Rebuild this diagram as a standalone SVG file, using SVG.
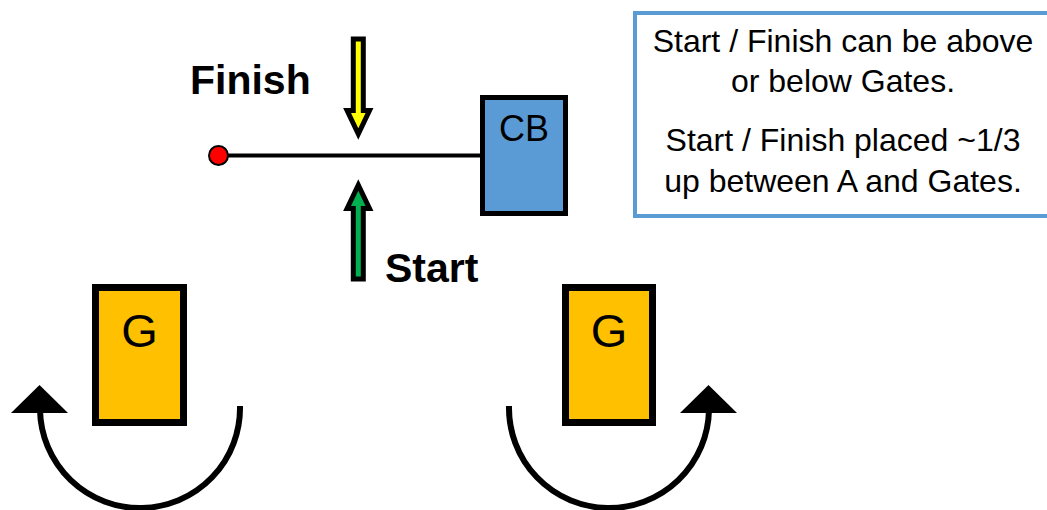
<svg xmlns="http://www.w3.org/2000/svg" width="1047" height="510" viewBox="0 0 1047 510">
  <style>
    .lbl { font-family: "Liberation Sans", Arial, sans-serif; fill: #000; }
    .bold { font-weight: bold; font-size: 41px; }
    .note { font-size: 32px; text-anchor: middle; }
    .gate { fill: #FFC000; stroke: #000; stroke-width: 7; }
    .gtext { font-size: 47px; text-anchor: middle; }
    .blk { stroke: #000; stroke-width: 5; stroke-linejoin: miter; }
    .rot { fill: none; stroke: #000; stroke-width: 6; }
  </style>
  <rect width="1047" height="510" fill="#fff"/>

  <g id="connectors">
    <line x1="218" y1="155.5" x2="481" y2="155.5" stroke="#000" stroke-width="4"/>
  </g>

  <g id="start-point">
    <circle cx="218.5" cy="155.5" r="9.5" fill="#FF0000" stroke="#000" stroke-width="2"/>
  </g>

  <g id="finish-arrow">
    <polygon class="blk" fill="#FFFF00" points="353.3,39 363.3,39 363.3,110.5 369.5,110.5 358.3,134 347.1,110.5 353.3,110.5"/>
  </g>
  <g id="start-arrow">
    <polygon class="blk" fill="#00B050" points="353.3,279 363.3,279 363.3,208.5 369.5,208.5 358.3,185 347.1,208.5 353.3,208.5"/>
  </g>

  <g id="finish-label">
    <text class="lbl bold" x="190" y="94">Finish</text>
  </g>
  <g id="start-label">
    <text class="lbl bold" x="385" y="282">Start</text>
  </g>

  <g id="cb">
    <rect x="482.5" y="97.5" width="83" height="116" fill="#5B9BD5" stroke="#000" stroke-width="5"/>
    <text class="lbl" x="524" y="141" font-size="36" text-anchor="middle">CB</text>
  </g>

  <g id="note">
    <rect x="635" y="13" width="430" height="203" fill="#fff" stroke="#5B9BD5" stroke-width="4"/>
    <text class="lbl note" x="843" y="52">Start / Finish can be above</text>
    <text class="lbl note" x="843" y="92">or below Gates.</text>
    <text class="lbl note" x="843" y="151">Start / Finish placed ~1/3</text>
    <text class="lbl note" x="843" y="192">up between A and Gates.</text>
  </g>

  <g id="gate-left">
    <rect class="gate" x="95.5" y="287.5" width="88" height="135"/>
    <text class="lbl gtext" x="139.5" y="347">G</text>
  </g>
  <g id="gate-right">
    <rect class="gate" x="565.5" y="287.5" width="87" height="135"/>
    <text class="lbl gtext" x="609" y="347">G</text>
  </g>

  <g id="rotation-left">
    <path class="rot" d="M240,406 A100,100 0 0 1 40,410"/>
    <polygon points="11,413 68,413 39.5,385" fill="#000"/>
  </g>
  <g id="rotation-right">
    <path class="rot" d="M509,406 A100,100 0 0 0 709,410"/>
    <polygon points="680,413 737,413 708.5,385" fill="#000"/>
  </g>
</svg>
